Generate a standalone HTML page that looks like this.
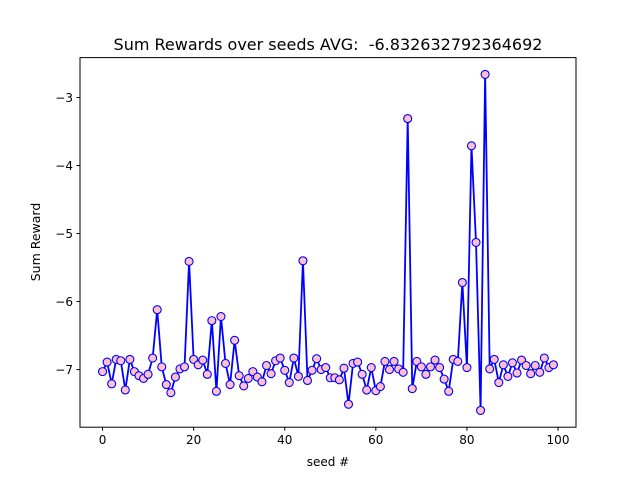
<!DOCTYPE html>
<html><head><meta charset="utf-8"><style>
body{margin:0;background:#fff}
svg{display:block;font-family:"DejaVu Sans","Liberation Sans",sans-serif}
</style></head><body>
<svg id="chart" width="640" height="480">
<rect width="640" height="480" fill="#fff"/>
<text x="328" y="50" font-size="16" text-anchor="middle" style="white-space:pre" xml:space="preserve">Sum Rewards over seeds AVG:  -6.832632792364692</text>
<g id="plot"></g>
<rect x="80" y="57.6" width="496" height="369.6" fill="none" stroke="#000" stroke-width="1"/>
<text x="328" y="466" font-size="12" text-anchor="middle">seed #</text>
<text transform="translate(40,242) rotate(-90)" font-size="12.5" text-anchor="middle">Sum Reward</text>
</svg>
<script>
const rewards=[-7.03,-6.89,-7.21,-6.85,-6.87,-7.30,-6.85,-7.03,-7.09,-7.13,-7.07,-6.83,-6.12,-6.96,-7.22,-7.34,-7.11,-6.99,-6.96,-5.41,-6.85,-6.93,-6.86,-7.07,-6.28,-7.32,-6.22,-6.91,-7.22,-6.57,-7.09,-7.24,-7.13,-7.03,-7.11,-7.18,-6.94,-7.06,-6.87,-6.83,-7.01,-7.19,-6.83,-7.10,-5.40,-7.16,-7.01,-6.84,-7.00,-6.97,-7.12,-7.12,-7.15,-6.98,-7.51,-6.91,-6.89,-7.07,-7.30,-6.97,-7.31,-7.25,-6.88,-7.00,-6.88,-6.99,-7.04,-3.31,-7.28,-6.88,-6.96,-7.07,-6.96,-6.86,-6.97,-7.14,-7.32,-6.85,-6.88,-5.72,-6.97,-3.71,-5.13,-7.60,-2.66,-6.99,-6.85,-7.19,-6.93,-7.10,-6.90,-7.05,-6.86,-6.94,-7.06,-6.94,-7.04,-6.83,-6.97,-6.93];
const xTicks=[0,20,40,60,80,100];
const yTicks=[-7,-6,-5,-4,-3];
const L=80,R=576,T=57.6,B=427.2;
const n=rewards.length;
const xmin=-0.05*(n-1),xmax=(n-1)*1.05;
const ymn=Math.min(...rewards),ymx=Math.max(...rewards),pad=(ymx-ymn)*0.05;
const ymin=ymn-pad,ymax=ymx+pad;
const sx=v=>L+(v-xmin)/(xmax-xmin)*(R-L);
const sy=v=>B-(v-ymin)/(ymax-ymin)*(B-T);
const NS="http://www.w3.org/2000/svg";
const g=document.getElementById('plot');
function mk(t,a){const e=document.createElementNS(NS,t);for(const k in a)e.setAttribute(k,a[k]);g.appendChild(e);return e;}
xTicks.forEach(t=>{
 const l=mk('line',{x1:sx(t),x2:sx(t),y1:B,y2:B+3.5,stroke:'#000'});
 
 
 const tx=mk('text',{x:sx(t),y:B+17,'font-size':12,'text-anchor':'middle'});
 tx.textContent=t;
 
 
});
yTicks.forEach(t=>{
 const l=mk('line',{x1:L-3.5,x2:L,y1:sy(t),y2:sy(t),stroke:'#000'});
 
 
 const tx=mk('text',{x:L-7,y:sy(t)+4.5,'font-size':12,'text-anchor':'end'});
 tx.textContent='\u2212'+Math.abs(t);
 
 
});
const pts=rewards.map((v,i)=>sx(i).toFixed(2)+','+sy(v).toFixed(2)).join(' ');
const line=mk('polyline',{points:pts,fill:'none',stroke:'#0000ff','stroke-width':1.8,'stroke-linejoin':'round'});


rewards.forEach((v,i)=>{
 const c=mk('circle',{cx:sx(i),cy:sy(v),r:4,fill:'#ffc0cb',stroke:'#0000ff','stroke-width':1.1});
 
 
});
</script>
</body></html>
